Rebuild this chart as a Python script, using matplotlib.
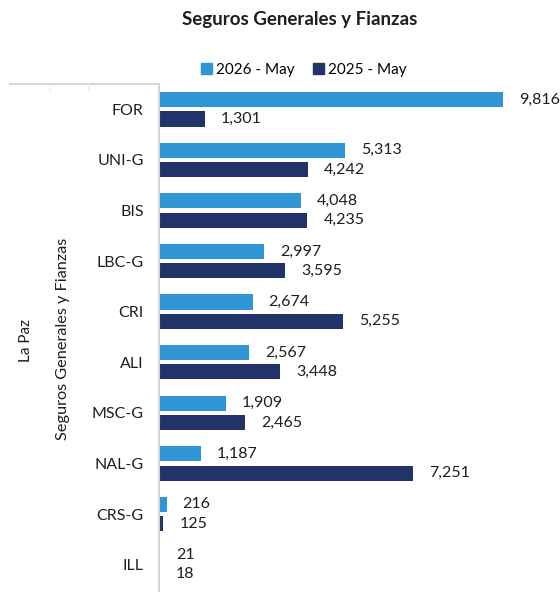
import matplotlib.pyplot as plt
from matplotlib.lines import Line2D
from matplotlib.patches import Patch

plt.rcParams['font.family'] = ['Lato', 'DejaVu Sans']

# Datos
empresas = ["FOR", "UNI-G", "BIS", "LBC-G", "CRI", "ALI", "MSC-G", "NAL-G", "CRS-G", "ILL"]
may_2026 = [9816, 5313, 4048, 2997, 2674, 2567, 1909, 1187, 216, 21]
may_2025 = [1301, 4242, 4235, 3595, 5255, 3448, 2465, 7251, 125, 18]

col_26 = "#2F95D5"
col_25 = "#22336A"
gris = "#D5D5DC"
txt = "#1E1E1E"

fig = plt.figure(figsize=(5.6, 5.92), dpi=100)
ax = fig.add_axes([159 / 560, 0, (555 - 159) / 560, (592 - 84) / 592])

pos = list(range(len(empresas)))
h = 0.3
ax.barh([p - 0.19 for p in pos], may_2026, height=h, color=col_26)
ax.barh([p + 0.19 for p in pos], may_2025, height=h, color=col_25)

for p, v in zip(pos, may_2026):
    ax.annotate(f"{v:,}", (v, p - 0.19), xytext=(11.5, 0), textcoords="offset points",
                va="center", ha="left", fontsize=11.5, color=txt)
for p, v in zip(pos, may_2025):
    ax.annotate(f"{v:,}", (v, p + 0.19), xytext=(11.5, 0), textcoords="offset points",
                va="center", ha="left", fontsize=11.5, color=txt)

ax.set_xlim(0, 11300)
ax.set_ylim(len(empresas) - 0.5 + 0.04, -0.5)
ax.set_yticks(pos)
ax.set_yticklabels(empresas, fontsize=11.5, color=txt)
ax.tick_params(axis="y", length=0, pad=11)
ax.set_xticks([])
for s in ["top", "right", "bottom"]:
    ax.spines[s].set_visible(False)
ax.spines["left"].set_color(gris)
ax.spines["left"].set_linewidth(1.5)

# Encabezado de la tabla lateral
fig.add_artist(Line2D([10 / 560, 159 / 560], [1 - 84 / 592, 1 - 84 / 592], color=gris, lw=1.5))
for xx in [50, 88]:
    fig.add_artist(Line2D([xx / 560, xx / 560], [1 - 84 / 592, 1 - 90 / 592], color="#EEEEF2", lw=1))

fig.text(63 / 560, 1 - 339 / 592, "Seguros Generales y Fianzas", rotation=90,
         ha="center", va="center", fontsize=11.7, color=txt)
fig.text(26 / 560, 1 - 341 / 592, "La Paz", rotation=90,
         ha="center", va="center", fontsize=11, color=txt)

fig.text(300 / 560, 1 - 19 / 592, "Seguros Generales y Fianzas", ha="center", va="center",
         fontsize=13.5, fontweight="bold", color=txt)

handles = [Patch(color=col_26, label="2026 - May"), Patch(color=col_25, label="2025 - May")]
fig.legend(handles=handles, loc="center", bbox_to_anchor=(304 / 560, 1 - 70 / 592), ncol=2,
           frameon=False, fontsize=11, handlelength=0.7, handleheight=0.7,
           handletextpad=0.3, columnspacing=1.2)

fig.savefig("out.png", dpi=100)
